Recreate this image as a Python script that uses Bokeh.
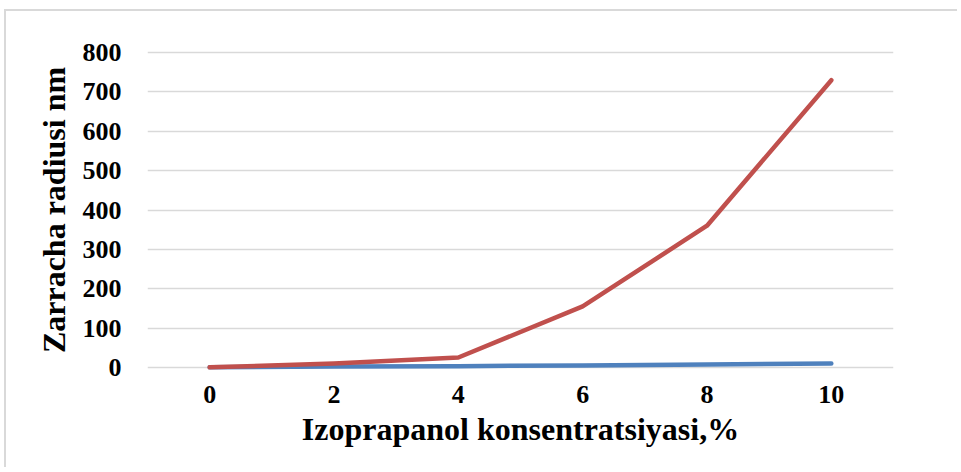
from bokeh.plotting import figure
from bokeh.models import FixedTicker, Range1d
from bokeh.embed import file_html
from bokeh.resources import INLINE

x_vals = [0, 2, 4, 6, 8, 10]
blue_series = [0, 2, 3, 5, 7, 10]
red_series = [0, 10, 25, 155, 360, 730]
y_ticks = [0, 100, 200, 300, 400, 500, 600, 700, 800]

FONT = "Liberation Serif"

p = figure(width=953, height=458, output_backend="svg", toolbar_location=None,
           x_range=Range1d(-1, 11), y_range=Range1d(-8, 808),
           min_border_left=141, min_border_right=66, min_border_top=38, min_border_bottom=99)
p.styles = {"margin-left": "4px", "margin-top": "9px",
            "border-top": "2px solid #d9d9d9", "border-left": "2px solid #d9d9d9"}
p.outline_line_color = None
p.background_fill_color = "white"
p.border_fill_color = "white"

p.xgrid.grid_line_color = None
p.ygrid.grid_line_color = "#d9d9d9"
p.ygrid.grid_line_width = 1.5

p.xaxis.ticker = FixedTicker(ticks=x_vals)
p.yaxis.ticker = FixedTicker(ticks=y_ticks)
for ax in (p.xaxis, p.yaxis):
    ax.axis_line_color = None
    ax.major_tick_line_color = None
    ax.minor_tick_line_color = None
    ax.major_label_text_font = FONT
    ax.major_label_text_font_style = "bold"
    ax.major_label_text_font_size = "26px"
    ax.major_label_text_color = "black"
    ax.axis_label_text_font = FONT
    ax.axis_label_text_font_style = "bold"
    ax.axis_label_text_font_size = "32px"
    ax.axis_label_text_color = "black"

p.xaxis.axis_label = "Izoprapanol konsentratsiyasi,%"
p.yaxis.axis_label = "Zarracha radiusi nm"
p.xaxis.major_label_standoff = 9
p.yaxis.major_label_standoff = 20
p.xaxis.axis_label_standoff = 5
p.yaxis.axis_label_standoff = 8

p.line(x_vals, blue_series, line_color="#4F81BD", line_width=4.5, line_cap="round", line_join="round")
p.line(x_vals, red_series, line_color="#C0504D", line_width=4.5, line_cap="round", line_join="round")

open("out.html", "w").write(file_html(p, INLINE))
